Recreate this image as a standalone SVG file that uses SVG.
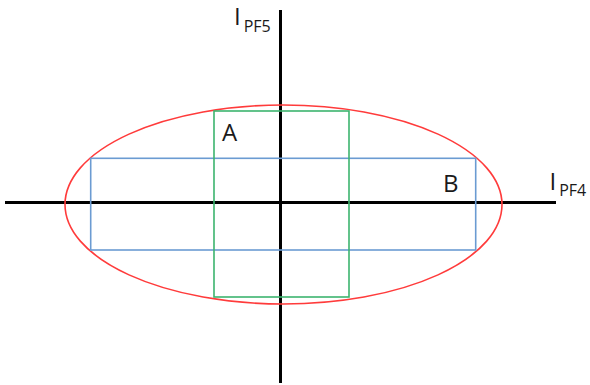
<svg xmlns="http://www.w3.org/2000/svg" width="590" height="385" viewBox="0 0 590 385">
<style>
.ax{stroke:#000;stroke-width:3;fill:none}
.t{font-family:"Open Sans","Liberation Sans",sans-serif;fill:#1a1a1a}
.lbl{font-size:24px}
.sub{font-size:16px}
</style>
<rect width="590" height="385" fill="#fff"/>
<g id="connectors">
<line class="ax" x1="5" y1="202.5" x2="556" y2="202.5"/>
<line class="ax" x1="280.5" y1="10" x2="280.5" y2="383"/>
</g>
<g id="ellipse"><ellipse cx="283.5" cy="204.5" rx="218.5" ry="99.5" fill="none" stroke="#ff3b3b" stroke-width="1.6"/></g>
<g id="rectB"><rect x="90.7" y="158.3" width="385" height="91.7" fill="none" stroke="#6b9bd2" stroke-width="1.6"/></g>
<g id="rectA"><rect x="214" y="111" width="135" height="186" fill="none" stroke="#3cb46e" stroke-width="1.6"/></g>
<g id="labelA"><text class="t lbl" x="222" y="141">A</text></g>
<g id="labelB"><text class="t lbl" x="443" y="191.5">B</text></g>
<g id="axisY"><text class="t" x="234" y="25"><tspan class="lbl">I</tspan><tspan class="sub" dx="3" dy="7">PF5</tspan></text></g>
<g id="axisX"><text class="t" x="549.5" y="190"><tspan class="lbl">I</tspan><tspan class="sub" dx="3" dy="6">PF4</tspan></text></g>
</svg>
